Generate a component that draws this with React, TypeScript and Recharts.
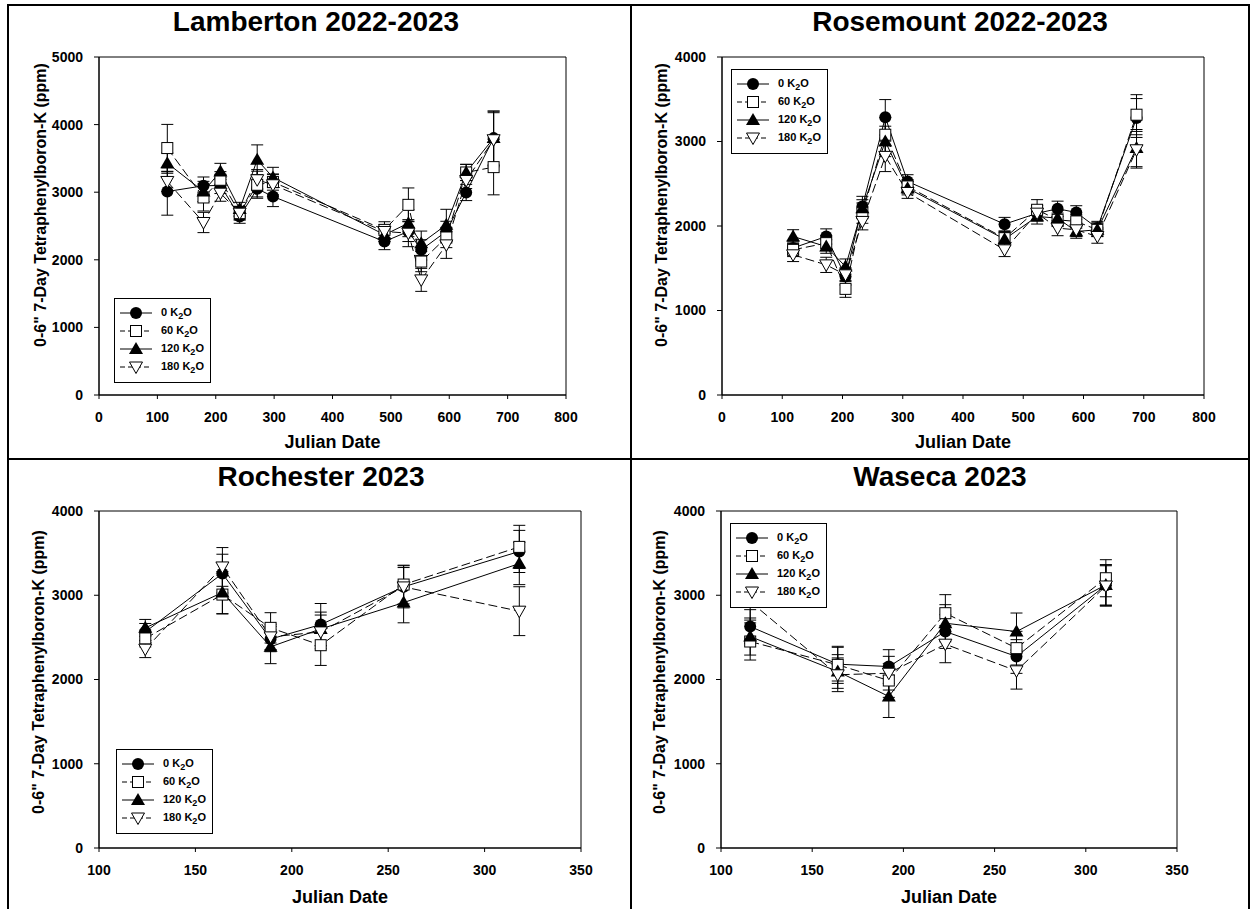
import React from "react";
import { ErrorBar, Legend, Line, LineChart, ReferenceArea, XAxis, YAxis } from "recharts";

const FONT = "Arial, 'Liberation Sans', Helvetica, sans-serif";
const Y_LABEL = '0-6" 7-Day Tetraphenylboron-K (ppm)';

// Lamberton 2022-2023
const lambertonDays = [117, 179, 208, 241, 271, 298, 489, 530, 552, 595, 629, 676];
const lambertonK0 = [3010, 3095, 3100, 2640, 3050, 2937, 2270, 2420, 2147, 2420, 2996, 3800];
const lambertonK60 = [3653, 2922, 3184, 2690, 3110, 3150, 2443, 2813, 1974, 2330, 3292, 3371];
const lambertonK120 = [3430, 3011, 3307, 2750, 3480, 3218, 2370, 2542, 2245, 2517, 3292, 3800];
const lambertonK180 = [3159, 2552, 2986, 2690, 3184, 3110, 2419, 2394, 1703, 2221, 3174, 3776];
const lambertonE0 = [350, 130, 120, 100, 120, 150, 120, 150, 150, 150, 120, 400];
const lambertonE60 = [350, 200, 120, 100, 200, 120, 120, 250, 150, 150, 120, 410];
const lambertonE120 = [150, 150, 120, 100, 220, 150, 100, 200, 180, 230, 120, 400];
const lambertonE180 = [150, 150, 120, 100, 150, 150, 100, 200, 170, 200, 120, 400];

// Rosemount 2022-2023
const rosemountDays = [118, 173, 205, 233, 271, 308, 469, 523, 557, 588, 623, 688];
const rosemountK0 = [1740, 1876, 1402, 2231, 3286, 2527, 2022, 2150, 2204, 2160, 1975, 3278];
const rosemountK60 = [1718, 1797, 1256, 2152, 3080, 2468, 1856, 2192, 2073, 2054, 1955, 3317];
const rosemountK120 = [1876, 1757, 1520, 2211, 3001, 2448, 1844, 2113, 2093, 1935, 1955, 2922];
const rosemountK180 = [1659, 1540, 1422, 2054, 2824, 2397, 1718, 2152, 1975, 1955, 1876, 2902];
const rosemountE0 = [80, 90, 100, 120, 210, 80, 80, 90, 90, 80, 80, 230];
const rosemountE60 = [80, 90, 100, 120, 200, 80, 80, 120, 80, 80, 80, 237];
const rosemountE120 = [80, 80, 90, 100, 180, 80, 80, 90, 90, 80, 80, 220];
const rosemountE180 = [80, 90, 80, 100, 180, 70, 80, 90, 90, 80, 80, 217];

// Rochester 2023
const rochesterDays = [124, 164, 189, 215, 258, 318];
const rochesterK0 = [2565, 3257, 2480, 2652, 3100, 3520];
const rochesterK60 = [2487, 3008, 2613, 2407, 3127, 3574];
const rochesterK120 = [2613, 3032, 2388, 2600, 2913, 3376];
const rochesterK180 = [2360, 3336, 2506, 2565, 3099, 2811];
const rochesterE0 = [100, 230, 150, 250, 250, 250];
const rochesterE60 = [100, 230, 180, 240, 230, 256];
const rochesterE120 = [100, 250, 200, 200, 240, 250];
const rochesterE180 = [100, 230, 150, 200, 230, 290];

// Waseca 2023
const wasecaDays = [116, 164, 192, 223, 262, 311];
const wasecaK0 = [2629, 2182, 2154, 2569, 2273, 3120];
const wasecaK60 = [2451, 2174, 1988, 2787, 2372, 3202];
const wasecaK120 = [2510, 2095, 1799, 2668, 2569, 3123];
const wasecaK180 = [2925, 2056, 2075, 2419, 2103, 3110];
const wasecaE0 = [200, 200, 200, 200, 200, 240];
const wasecaE60 = [220, 220, 200, 220, 200, 220];
const wasecaE120 = [220, 200, 250, 220, 220, 240];
const wasecaE180 = [220, 200, 200, 220, 217, 240];

const wideDayTicks = [0, 100, 200, 300, 400, 500, 600, 700, 800];
const narrowDayTicks = [100, 150, 200, 250, 300, 350];
const ticks5000 = [0, 1000, 2000, 3000, 4000, 5000];
const ticks4000 = [0, 1000, 2000, 3000, 4000];

type Shape = "circle" | "square" | "triangle" | "invTriangle";

const treatments: { key: string; rate: string; shape: Shape; dashed: boolean }[] = [
  { key: "k0", rate: "0", shape: "circle", dashed: false },
  { key: "k60", rate: "60", shape: "square", dashed: true },
  { key: "k120", rate: "120", shape: "triangle", dashed: false },
  { key: "k180", rate: "180", shape: "invTriangle", dashed: true },
];

function Marker({ shape, cx, cy }: { shape: Shape; cx: number; cy: number }) {
  if (shape === "circle") return <circle cx={cx} cy={cy} r={6} fill="#000" />;
  if (shape === "square")
    return <rect x={cx - 5.5} y={cy - 5.5} width={11} height={11} fill="#fff" stroke="#000" strokeWidth={1} />;
  if (shape === "triangle")
    return <polygon points={`${cx},${cy - 7} ${cx - 7},${cy + 5} ${cx + 7},${cy + 5}`} fill="#000" />;
  return (
    <polygon
      points={`${cx - 6.5},${cy - 5} ${cx + 6.5},${cy - 5} ${cx},${cy + 6.5}`}
      fill="#fff"
      stroke="#000"
      strokeWidth={1}
    />
  );
}

function LegendBox() {
  return (
    <svg width={97} height={85} style={{ display: "block" }}>
      <rect x={0.5} y={0.5} width={96} height={84} fill="#fff" stroke="#000" strokeWidth={1} />
      {treatments.map((t, i) => {
        const y = 15 + 18 * i;
        return (
          <g key={t.key}>
            <line x1={6} x2={38} y1={y} y2={y} stroke="#000" strokeDasharray={t.dashed ? "5 3" : undefined} />
            <Marker shape={t.shape} cx={22} cy={y} />
            <text x={47} y={y + 3} fontSize={11} fontWeight="bold" fontFamily={FONT} fill="#000">
              {t.rate} K
              <tspan fontSize={9} dy={3}>
                2
              </tspan>
              <tspan dy={-3}>O</tspan>
            </text>
          </g>
        );
      })}
    </svg>
  );
}

type PanelProps = {
  title: string;
  days: number[];
  values: number[][];
  errors: number[][];
  xTicks: number[];
  yTicks: number[];
  plot: { left: number; right: number; top: number; bottom: number };
  legend: { x: number; y: number };
  titlePos: { x: number; y: number };
  yLabelPos: { x: number; y: number };
  xLabelY: number;
};

const tickStyle = { fill: "#000", fontSize: 14, fontWeight: "bold", fontFamily: FONT };

function Panel({ title, days, values, errors, xTicks, yTicks, plot, legend, titlePos, yLabelPos, xLabelY }: PanelProps) {
  const rows = days.map((day, i) => {
    const row: Record<string, number> = { day };
    treatments.forEach((t, s) => {
      row[t.key] = values[s][i];
      row["e" + t.key] = errors[s][i];
    });
    return row;
  });

  const left = plot.left - 80;
  const top = plot.top - 20;
  const width = plot.right - plot.left + 120;
  const height = plot.bottom - plot.top + 60;
  const xMin = xTicks[0];
  const xMax = xTicks[xTicks.length - 1];
  const yMax = yTicks[yTicks.length - 1];

  return (
    <>
      <div
        style={{
          position: "absolute",
          left: titlePos.x,
          top: titlePos.y,
          transform: "translate(-50%, -50%)",
          fontFamily: FONT,
          fontWeight: "bold",
          fontSize: 28,
          lineHeight: 1,
          whiteSpace: "nowrap",
        }}
      >
        {title}
      </div>
      <div
        style={{
          position: "absolute",
          left: yLabelPos.x,
          top: yLabelPos.y,
          transform: "translate(-50%, -50%) rotate(-90deg)",
          fontFamily: FONT,
          fontWeight: "bold",
          fontSize: 16,
          lineHeight: 1,
          whiteSpace: "nowrap",
        }}
      >
        {Y_LABEL}
      </div>
      <div
        style={{
          position: "absolute",
          left: (plot.left + plot.right) / 2,
          top: xLabelY,
          transform: "translate(-50%, -50%)",
          fontFamily: FONT,
          fontWeight: "bold",
          fontSize: 18,
          lineHeight: 1,
          whiteSpace: "nowrap",
        }}
      >
        Julian Date
      </div>
      <div style={{ position: "absolute", left, top }}>
        <LineChart width={width} height={height} data={rows} margin={{ top: 20, right: 40, bottom: 10, left: 20 }}>
          <XAxis
            type="number"
            dataKey="day"
            domain={[xMin, xMax]}
            ticks={xTicks}
            interval={0}
            height={30}
            tickSize={4}
            tickMargin={13}
            tick={tickStyle}
            axisLine={{ stroke: "#000" }}
            tickLine={{ stroke: "#000" }}
          />
          <YAxis
            type="number"
            domain={[0, yMax]}
            ticks={yTicks}
            interval={0}
            width={60}
            tickSize={5}
            tickMargin={11}
            tick={tickStyle}
            axisLine={{ stroke: "#000" }}
            tickLine={{ stroke: "#000" }}
          />
          <ReferenceArea x1={xMin} x2={xMax} y1={0} y2={yMax} fill="none" stroke="#000" strokeWidth={1} ifOverflow="visible" />
          {treatments.map((t) => (
            <Line
              key={t.key}
              type="linear"
              dataKey={t.key}
              stroke="#000"
              strokeWidth={1}
              strokeDasharray={t.dashed ? "9 4" : undefined}
              isAnimationActive={false}
              activeDot={false}
              dot={(p: any) => (
                <g key={`${t.key}-${p.index}`}>
                  <Marker shape={t.shape} cx={p.cx} cy={p.cy} />
                </g>
              )}
            >
              <ErrorBar dataKey={"e" + t.key} direction="y" width={6} stroke="#000" strokeWidth={1} isAnimationActive={false} />
            </Line>
          ))}
          <Legend
            layout="vertical"
            align="center"
            verticalAlign="middle"
            content={() => <LegendBox />}
            wrapperStyle={{ left: legend.x - left, top: legend.y - top, width: 97, height: 85 }}
          />
        </LineChart>
      </div>
    </>
  );
}

export default function App() {
  return (
    <div style={{ position: "fixed", left: 0, top: 0, width: 1253, height: 909, background: "#fff", overflow: "hidden" }}>
      <div
        style={{
          position: "absolute",
          left: 7,
          top: 4,
          width: 1243,
          height: 910,
          border: "2px solid #000",
          boxSizing: "border-box",
        }}
      />
      <div style={{ position: "absolute", left: 630, top: 4, width: 2, height: 909, background: "#000" }} />
      <div style={{ position: "absolute", left: 7, top: 458, width: 1243, height: 2, background: "#000" }} />

      <Panel
        title="Lamberton 2022-2023"
        days={lambertonDays}
        values={[lambertonK0, lambertonK60, lambertonK120, lambertonK180]}
        errors={[lambertonE0, lambertonE60, lambertonE120, lambertonE180]}
        xTicks={wideDayTicks}
        yTicks={ticks5000}
        plot={{ left: 99, right: 566, top: 57, bottom: 395 }}
        legend={{ x: 114, y: 298 }}
        titlePos={{ x: 316, y: 22 }}
        yLabelPos={{ x: 41, y: 205 }}
        xLabelY={442}
      />
      <Panel
        title="Rosemount 2022-2023"
        days={rosemountDays}
        values={[rosemountK0, rosemountK60, rosemountK120, rosemountK180]}
        errors={[rosemountE0, rosemountE60, rosemountE120, rosemountE180]}
        xTicks={wideDayTicks}
        yTicks={ticks4000}
        plot={{ left: 722, right: 1204, top: 57, bottom: 395 }}
        legend={{ x: 731, y: 69 }}
        titlePos={{ x: 960, y: 22 }}
        yLabelPos={{ x: 662, y: 205 }}
        xLabelY={442}
      />
      <Panel
        title="Rochester 2023"
        days={rochesterDays}
        values={[rochesterK0, rochesterK60, rochesterK120, rochesterK180]}
        errors={[rochesterE0, rochesterE60, rochesterE120, rochesterE180]}
        xTicks={narrowDayTicks}
        yTicks={ticks4000}
        plot={{ left: 99, right: 581, top: 511, bottom: 848 }}
        legend={{ x: 116, y: 749 }}
        titlePos={{ x: 321, y: 477 }}
        yLabelPos={{ x: 39, y: 672 }}
        xLabelY={897}
      />
      <Panel
        title="Waseca 2023"
        days={wasecaDays}
        values={[wasecaK0, wasecaK60, wasecaK120, wasecaK180]}
        errors={[wasecaE0, wasecaE60, wasecaE120, wasecaE180]}
        xTicks={narrowDayTicks}
        yTicks={ticks4000}
        plot={{ left: 721, right: 1177, top: 511, bottom: 848 }}
        legend={{ x: 730, y: 523 }}
        titlePos={{ x: 940, y: 477 }}
        yLabelPos={{ x: 660, y: 672 }}
        xLabelY={897}
      />
    </div>
  );
}
